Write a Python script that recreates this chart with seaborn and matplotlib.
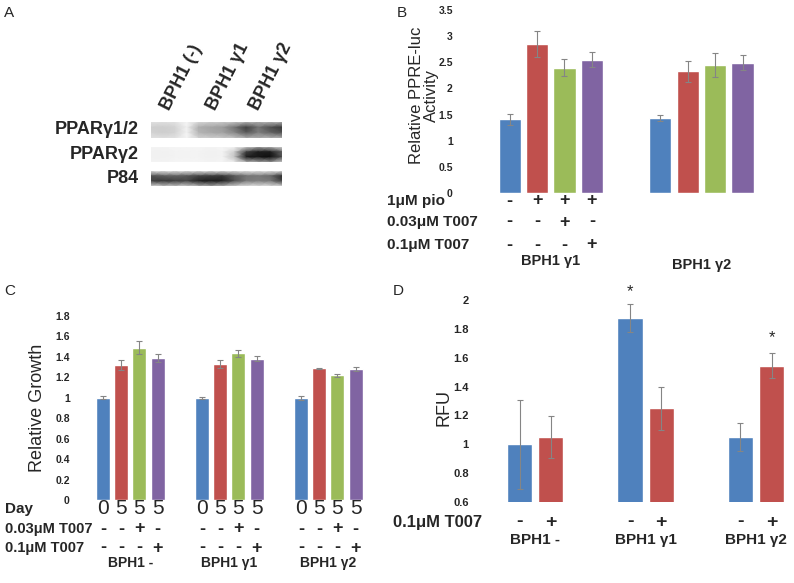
import numpy as np
import pandas as pd
import matplotlib
matplotlib.use('Agg')
import matplotlib.pyplot as plt
import matplotlib.transforms as mtrans
import seaborn as sns

# ── Data ─────────────────────────────────────────────────────
blot_rows  = ['PPARγ1/2', 'PPARγ2', 'P84']
blot_lanes = ['BPH1 (-)', 'BPH1 γ1', 'BPH1 γ2']
blot_ppar12 = [[0.20, 0.22, 0.20, 0.08, 0.26, 0.30, 0.32, 0.34, 0.40, 0.42, 0.40, 0.42],
               [0.30, 0.30, 0.28, 0.12, 0.42, 0.45, 0.48, 0.62, 0.80, 0.62, 0.75, 0.82],
               [0.28, 0.30, 0.28, 0.10, 0.40, 0.44, 0.46, 0.55, 0.72, 0.58, 0.68, 0.75],
               [0.20, 0.22, 0.20, 0.08, 0.28, 0.30, 0.32, 0.34, 0.42, 0.42, 0.40, 0.42]]
blot_ppar2  = [[0.10, 0.10, 0.08, 0.08, 0.08, 0.10, 0.08, 0.10, 0.30, 0.45, 0.40, 0.25],
               [0.12, 0.12, 0.10, 0.10, 0.10, 0.12, 0.10, 0.30, 0.80, 0.90, 0.90, 0.70],
               [0.12, 0.12, 0.10, 0.10, 0.10, 0.12, 0.10, 0.35, 0.90, 0.92, 0.95, 0.75],
               [0.10, 0.10, 0.08, 0.08, 0.08, 0.10, 0.08, 0.15, 0.40, 0.45, 0.50, 0.30]]
blot_p84    = [[0.20, 0.20, 0.20, 0.20, 0.20, 0.20, 0.20, 0.20, 0.18, 0.18, 0.18, 0.22],
               [0.75, 0.70, 0.68, 0.72, 0.78, 0.80, 0.82, 0.72, 0.62, 0.60, 0.65, 0.85],
               [0.80, 0.82, 0.80, 0.78, 0.88, 0.90, 0.88, 0.75, 0.60, 0.58, 0.60, 0.80],
               [0.25, 0.35, 0.35, 0.30, 0.40, 0.45, 0.40, 0.30, 0.22, 0.22, 0.22, 0.28]]

# B — PPRE-luc activity
b_groups = ['BPH1 γ1', 'BPH1 γ2']
b_conds  = ['ctrl', 'pio', 'pio+T007 0.03', 'pio+T007 0.1']
b_vals   = [[1.41, 2.85, 2.40, 2.55], [1.43, 2.33, 2.45, 2.49]]
b_err    = [[0.11, 0.25, 0.17, 0.14], [0.06, 0.20, 0.23, 0.14]]
b_pio    = ['-', '+', '+', '+']
b_t003   = ['-', '-', '+', '-']
b_t01    = ['-', '-', '-', '+']

# C — relative growth
c_groups = ['BPH1 -', 'BPH1 γ1', 'BPH1 γ2']
c_conds  = ['d0', 'd5', 'd5+T007 0.03', 'd5+T007 0.1']
c_vals   = [[1.00, 1.32, 1.49, 1.39], [1.00, 1.33, 1.435, 1.38], [1.00, 1.29, 1.22, 1.28]]
c_err    = [[0.015, 0.045, 0.065, 0.04], [0.01, 0.035, 0.035, 0.025], [0.02, 0.005, 0.015, 0.02]]
c_day    = ['0', '5', '5', '5']
c_t003   = ['-', '-', '+', '-']
c_t01    = ['-', '-', '-', '+']

# D — RFU
d_groups = ['BPH1 -', 'BPH1 γ1', 'BPH1 γ2']
d_conds  = ['ctrl', 'T007 0.1']
d_vals   = [[1.00, 1.05], [1.875, 1.25], [1.05, 1.545]]
d_err    = [[0.31, 0.145], [0.095, 0.15], [0.095, 0.085]]
d_t01    = ['-', '+']

palette4 = ['#4F81BD', '#C0504D', '#9BBB59', '#8064A2']

sns.set_style('white')
plt.rcParams['font.family'] = ['Liberation Sans', 'DejaVu Sans']

W, H = 794, 583
fig = plt.figure(figsize=(W / 100, H / 100), dpi=100)


def px_axes(x0, y0, x1, y1):
    return fig.add_axes([x0 / W, 1 - y1 / H, (x1 - x0) / W, (y1 - y0) / H])


def ftext(x, y, s, **kw):
    fig.text(x / W, 1 - y / H, s, **kw)


def bar_panel(ax, groups, conds, vals, errs, palette, width, gap, yticks, tick_fs):
    df = pd.DataFrame({'group': np.repeat(groups, len(conds)),
                       'cond': conds * len(groups),
                       'value': np.concatenate(vals)})
    sns.barplot(data=df, x='group', y='value', hue='cond', order=groups, hue_order=conds,
                palette=palette, width=width, gap=gap, errorbar=None, legend=False,
                saturation=1, ax=ax)
    bars = sorted(ax.patches, key=lambda p: p.get_x())
    xs = np.array([p.get_x() + p.get_width() / 2 for p in bars])
    ax.errorbar(xs, df['value'], yerr=np.concatenate(errs), fmt='none', ecolor='#858585',
                elinewidth=0.8, capsize=2, capthick=0.8)
    sns.despine(ax=ax, left=True, bottom=True)
    ax.set_xlabel('')
    ax.set_ylabel('')
    ax.set_xticks([])
    ax.set_yticks(yticks)
    ax.set_yticklabels([f'{t:g}' for t in yticks], fontweight='bold', fontsize=tick_fs)
    ax.tick_params(axis='y', length=0, pad=3)
    ax.patch.set_alpha(0)
    return xs


def row_marks(ax, xs, marks, y, fs=13, weight='bold'):
    tr = mtrans.blended_transform_factory(ax.transData, fig.transFigure)
    for x, m in zip(xs, marks):
        ax.text(x, 1 - y / H, m, transform=tr, ha='center', va='center',
                fontsize=fs, fontweight=weight, clip_on=False)


# ── Panel A: western blot ────────────────────────────────────
ftext(9, 13, 'A', fontsize=11, ha='center', va='center')
blot_boxes = [(151, 122, 282, 138), (151, 147, 282, 162), (151, 171, 282, 186)]
for name, data, (x0, y0, x1, y1) in zip(blot_rows, [blot_ppar12, blot_ppar2, blot_p84], blot_boxes):
    ax = px_axes(x0, y0, x1, y1)
    arr = np.array(data)
    sns.heatmap(arr, cmap='Greys', vmin=0, vmax=1, cbar=False, shading='gouraud',
                xticklabels=False, yticklabels=False, ax=ax)
    ax.set_xlim(0, arr.shape[1] - 1)
    ax.set_ylim(arr.shape[0] - 1, 0)
    ftext(139, (y0 + y1) / 2, name, fontsize=13, fontweight='bold', ha='right', va='center')
for lx, lane in zip([173, 219, 262], blot_lanes):
    ftext(lx, 113, lane, fontsize=13, fontweight='bold', rotation=63,
          rotation_mode='anchor', ha='left', va='bottom')

# ── Panel B: PPRE-luc activity ───────────────────────────────
ftext(402, 13, 'B', fontsize=11, ha='center', va='center')
axb = px_axes(457, 10, 790, 193)
xb = bar_panel(axb, b_groups, b_conds, b_vals, b_err, palette4, 0.728, 0.19,
               [0, 0.5, 1, 1.5, 2, 2.5, 3, 3.5], 7.5)
axb.set_ylim(0, 3.5)
axb.set_xlim((457 - 550.75) / 150.65, (790 - 550.75) / 150.65)
ftext(424, 95, 'Relative PPRE-luc\nActivity', fontsize=12, rotation=90,
      ha='center', va='center', linespacing=1.05)
for lbl, marks, y in [('1μM pio', b_pio, 201), ('0.03μM T007', b_t003, 222),
                      ('0.1μM T007', b_t01, 245)]:
    ftext(387, y, lbl, fontsize=11, fontweight='bold', ha='left', va='center')
    row_marks(axb, xb, marks, y)
row_marks(axb, [0], b_groups[:1], 261, fs=10.5)
row_marks(axb, [1], b_groups[1:], 265, fs=10.5)

# ── Panel C: relative growth ─────────────────────────────────
ftext(10, 291, 'C', fontsize=11, ha='center', va='center')
axc = px_axes(74, 316, 395, 500)
xc = bar_panel(axc, c_groups, c_conds, c_vals, c_err, palette4, 0.735, 0.23,
               [0, 0.2, 0.4, 0.6, 0.8, 1, 1.2, 1.4, 1.6, 1.8], 7.5)
axc.set_ylim(0, 1.8)
axc.set_xlim((74 - 130.3) / 99, (395 - 130.3) / 99)
ftext(37, 408, 'Relative Growth', fontsize=13, rotation=90, ha='center', va='center')
ftext(5, 509, 'Day', fontsize=11, fontweight='bold', ha='left', va='center')
row_marks(axc, xc, c_day * 3, 509, fs=15, weight='normal')
for lbl, marks, y in [('0.03μM T007', c_t003, 529), ('0.1μM T007', c_t01, 548)]:
    ftext(5, y, lbl, fontsize=10.5, fontweight='bold', ha='left', va='center')
    row_marks(axc, xc, marks * 3, y)
row_marks(axc, [0, 1, 2], c_groups, 563, fs=10)

# ── Panel D: RFU ─────────────────────────────────────────────
ftext(398, 291, 'D', fontsize=11, ha='center', va='center')
axd = px_axes(473, 300, 794, 502)
xd = bar_panel(axd, d_groups, d_conds, d_vals, d_err, palette4[:2], 0.567, 0.2,
               [0.6, 0.8, 1, 1.2, 1.4, 1.6, 1.8, 2], 8)
axd.set_ylim(0.6, 2.0)
axd.set_xlim((473 - 535.25) / 110.4, (794 - 535.25) / 110.4)
ftext(444, 408, 'RFU', fontsize=13, rotation=90, ha='center', va='center')
ftext(393, 522, '0.1μM T007', fontsize=12, fontweight='bold', ha='left', va='center')
row_marks(axd, xd, d_t01 * 3, 522, fs=14)
row_marks(axd, [0, 1, 2], d_groups, 540, fs=11)
# significance stars
for x, y in [(xd[2], 2.06), (xd[5], 1.74)]:
    axd.text(x, y, '*', ha='center', va='center', fontsize=12, clip_on=False)

fig.savefig('out.png', dpi=100)
